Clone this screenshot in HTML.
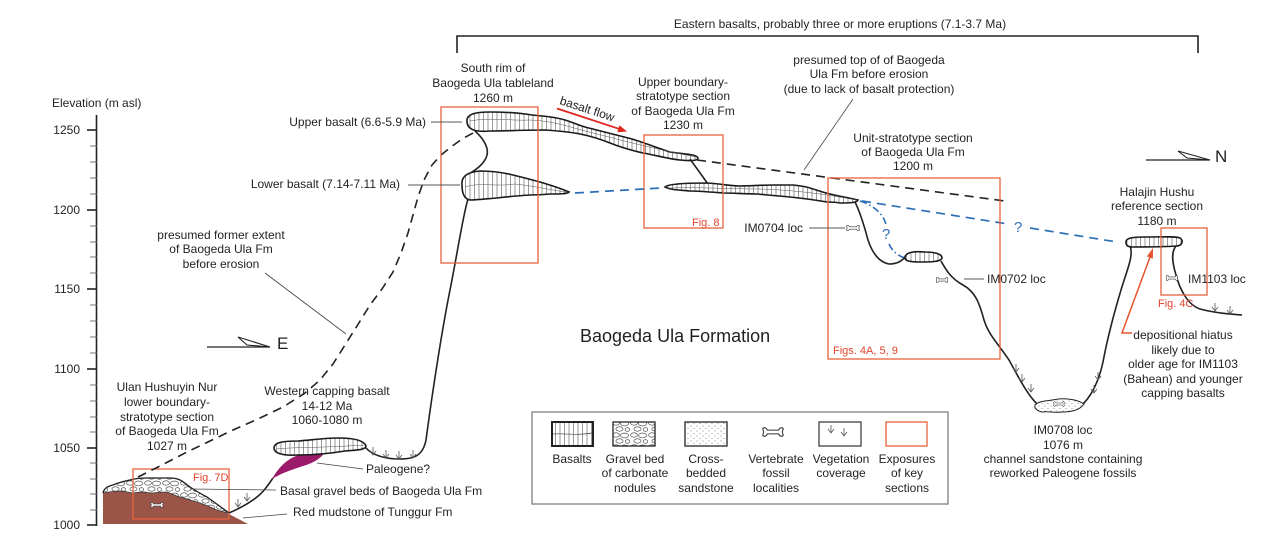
<!DOCTYPE html>
<html><head><meta charset="utf-8"><style>
html,body{margin:0;padding:0;background:#fff;}
svg{display:block;}
text{font-family:"Liberation Sans",Arial,sans-serif;font-size:12px;fill:#231f20;}
.fig{fill:#e2452c;font-size:11px;}
.rb{fill:none;stroke:#e8623d;stroke-width:1.3;}
.ln{fill:none;stroke:#222;stroke-width:1.6;}
.ld{fill:none;stroke:#444;stroke-width:0.8;}
.bas{fill:url(#bas);stroke:#1a1a1a;stroke-width:1.6;}
</style></head><body>
<svg width="1270" height="539" viewBox="0 0 1270 539" xmlns="http://www.w3.org/2000/svg">
<defs>
<pattern id="bas" width="4.5" height="40" patternUnits="userSpaceOnUse">
<rect width="4.5" height="40" fill="#fff"/>
<line x1="2" y1="0" x2="2" y2="40" stroke="#555" stroke-width="0.6"/>
</pattern>
<pattern id="grav" width="18" height="12" patternUnits="userSpaceOnUse">
<rect width="18" height="12" fill="#fff"/>
<ellipse cx="4" cy="3" rx="3.4" ry="2.2" fill="none" stroke="#333" stroke-width="0.6"/>
<ellipse cx="12.5" cy="3.5" rx="4" ry="2.4" fill="none" stroke="#333" stroke-width="0.6"/>
<ellipse cx="7.5" cy="9" rx="3.6" ry="2.2" fill="none" stroke="#333" stroke-width="0.6"/>
<ellipse cx="15.5" cy="9.5" rx="2.2" ry="1.8" fill="none" stroke="#333" stroke-width="0.6"/>
</pattern>
<pattern id="dots" width="6" height="5" patternUnits="userSpaceOnUse">
<rect width="6" height="5" fill="#fff"/>
<circle cx="1" cy="1" r="0.45" fill="#555"/><circle cx="4" cy="3.5" r="0.45" fill="#555"/>
</pattern>
<path id="bone" d="M-5,-1.6 L5,-1.6 C5.5,-4 8.5,-4.5 9,-2.5 C8,-1 8,1 9,2.5 C8.5,4.5 5.5,4 5,1.6 L-5,1.6 C-5.5,4 -8.5,4.5 -9,2.5 C-8,1 -8,-1 -9,-2.5 C-8.5,-4.5 -5.5,-4 -5,-1.6 Z" fill="#fff" stroke="#333" stroke-width="0.9"/>
<path id="veg" d="M0,-8 V0 M-3,-4 L0,0 L3,-4" fill="none" stroke="#555" stroke-width="0.8"/>
</defs>

<!-- axis -->
<text x="52" y="107">Elevation (m asl)</text>
<line x1="96.5" y1="115" x2="96.5" y2="526" stroke="#222" stroke-width="1.6"/>
<g stroke="#222" stroke-width="1.6">
<line x1="87" y1="130" x2="97" y2="130"/><line x1="87" y1="210" x2="97" y2="210"/><line x1="87" y1="289" x2="97" y2="289"/>
<line x1="87" y1="369" x2="97" y2="369"/><line x1="87" y1="448" x2="97" y2="448"/><line x1="87" y1="525" x2="97" y2="525"/>
</g>
<g stroke="#666" stroke-width="0.9">
<line x1="90" y1="146" x2="97" y2="146"/><line x1="90" y1="162" x2="97" y2="162"/><line x1="90" y1="178" x2="97" y2="178"/><line x1="90" y1="194" x2="97" y2="194"/>
<line x1="90" y1="226" x2="97" y2="226"/><line x1="90" y1="242" x2="97" y2="242"/><line x1="90" y1="257" x2="97" y2="257"/><line x1="90" y1="273" x2="97" y2="273"/>
<line x1="90" y1="305" x2="97" y2="305"/><line x1="90" y1="321" x2="97" y2="321"/><line x1="90" y1="337" x2="97" y2="337"/><line x1="90" y1="353" x2="97" y2="353"/>
<line x1="90" y1="385" x2="97" y2="385"/><line x1="90" y1="401" x2="97" y2="401"/><line x1="90" y1="417" x2="97" y2="417"/><line x1="90" y1="432" x2="97" y2="432"/>
<line x1="90" y1="463" x2="97" y2="463"/><line x1="90" y1="479" x2="97" y2="479"/><line x1="90" y1="494" x2="97" y2="494"/><line x1="90" y1="510" x2="97" y2="510"/>
</g>
<g text-anchor="end">
<text x="80" y="134">1250</text><text x="80" y="214">1200</text><text x="80" y="293">1150</text>
<text x="80" y="373">1100</text><text x="80" y="452">1050</text><text x="80" y="529">1000</text>
</g>

<!-- top bracket -->
<text x="840" y="28" text-anchor="middle">Eastern basalts, probably three or more eruptions (7.1-3.7 Ma)</text>
<path d="M457,53 V36 H1198 V53" fill="none" stroke="#222" stroke-width="1.6"/>

<!-- hill: mudstone + gravel -->
<path d="M103,493 C108,492 115,491 123,491 C128,492 131,493 133,493 C138,492 142,492 145,492 C148,493 151,493 153,493 C158,492 163,492 167,492 C172,494 176,496 180,497 C184,498 187,499 190,500 C194,501 197,502 200,503 C206,505 212,508 217,510 C221,511 224,512 227,513 L248,524 L103,524 Z" fill="#9b5548"/>
<path d="M103,493 C104,488 108,486 113,485 C120,482 125,481 130,480 C137,478 142,478 147,478 C155,478 163,478 170,478 C175,478 178,479 180,480 C184,482 187,485 190,487 C196,491 201,494 207,497 C214,502 221,507 227,512 L227,513 C224,512 221,511 217,510 C212,508 206,505 200,503 C197,502 194,501 190,500 C187,499 184,498 180,497 C176,496 172,494 167,492 C163,492 158,492 153,493 C151,493 148,493 145,492 C142,492 138,492 133,493 C131,493 128,492 123,491 C115,491 108,492 103,493 Z" fill="url(#grav)" stroke="#333" stroke-width="0.8"/>
<path d="M103,493 C104,488 108,486 113,485 C120,482 125,481 130,480 C137,478 142,478 147,478 C155,478 163,478 170,478 C175,478 178,479 180,480 C184,482 187,485 190,487 C196,491 201,494 207,497 C214,502 221,507 229,513" fill="none" stroke="#222" stroke-width="1.3"/>
<use href="#bone" transform="translate(157,505) scale(0.7)" />
<rect class="rb" x="133" y="469" width="96" height="50"/>
<text class="fig" x="193" y="481">Fig. 7D</text>

<!-- slope from hill to western basalt -->
<path class="ln" d="M229,513 C245,506 258,498 265,489 C269,484 271,481 273,478"/>
<use href="#veg" x="238" y="507"/><use href="#veg" x="247" y="501"/>
<!-- purple Paleogene lens -->
<path d="M272,479 C278,468 286,460 296,456 C306,453 317,452 324,453 C321,459 311,464 300,467 C288,471 280,474 272,479 Z" fill="#9c1a6a"/>
<!-- western capping basalt -->
<path class="bas" d="M274,448 C274,442 284,441 298,441 C312,440 325,438 338,438 C352,438 364,440 366,446 C366,450 356,450 345,451 C333,453 315,455 298,455 C282,456 274,453 274,448 Z"/>
<path d="M276,449 C295,447 320,448 364,445" fill="none" stroke="#555" stroke-width="0.5"/>

<!-- main cliff -->
<path class="ln" d="M366,448 C372,455 385,459 400,459 C415,459 423,455 426,440 C430,410 440,340 450,290 C458,250 463,215 468,199"/>
<use href="#veg" x="373" y="455"/><use href="#veg" x="386" y="458"/><use href="#veg" x="399" y="459"/><use href="#veg" x="413" y="458"/>

<!-- dashed former extent -->
<polyline points="138,477 160,466 187,452 210,441 233,430 258,419 283,407 305,393 320,380 333,364 345,345 357,326 370,305 382,289 393,272 401,253 408,233 413,215 418,197 424,180 432,165 441,155 451,147 462,139 475,132" fill="none" stroke="#222" stroke-width="1.6" stroke-dasharray="9,6" stroke-linejoin="round"/>
<text x="221" y="239" text-anchor="middle">presumed former extent</text>
<text x="221" y="253" text-anchor="middle">of Baogeda Ula Fm</text>
<text x="221" y="268" text-anchor="middle">before erosion</text>
<line class="ld" x1="265" y1="273" x2="346" y2="334"/>

<!-- tableland basalts -->
<path class="ln" d="M475,131 C485,140 490,150 486,158 C482,166 475,170 469,174"/>
<path class="bas" d="M467,122 C466,114 475,112 490,112 C505,112 520,113 532,115 C545,116 555,117 565,120 C572,122 578,125 585,127 C600,131 617,135 632,139 C645,143 658,148 670,152 C682,154 697,154 698,158 C698,161 690,161 680,160 C668,159 655,155 643,153 C630,150 620,147 610,143 C600,139 590,136 580,134 C570,132 560,131 545,130 C525,130 505,131 490,131 C478,132 468,131 467,122 Z"/>
<path d="M470,121 C490,117 510,121 530,120 C550,121 560,124 585,131 C610,137 640,146 696,157" fill="none" stroke="#555" stroke-width="0.5"/>
<path class="bas" d="M462,185 C461,176 468,172 480,171 C495,171 505,173 513,175 C525,178 533,180 540,182 C550,185 560,188 569,192 C567,194 560,194 550,194 C540,195 535,195 530,195 C515,196 505,197 497,198 C485,199 475,200 470,200 C464,199 462,193 462,185 Z"/>
<path d="M465,187 C480,182 495,187 515,184 C535,186 550,190 566,192" fill="none" stroke="#555" stroke-width="0.5"/>
<rect class="rb" x="441" y="107" width="97" height="156"/>
<text x="493" y="72" text-anchor="middle">South rim of</text>
<text x="493" y="87" text-anchor="middle">Baogeda Ula tableland</text>
<text x="493" y="102" text-anchor="middle">1260 m</text>
<text x="426" y="126" text-anchor="end">Upper basalt (6.6-5.9 Ma)</text>
<line x1="431" y1="122" x2="462" y2="122" stroke="#555" stroke-width="0.9"/>
<text x="400" y="188" text-anchor="end">Lower basalt (7.14-7.11 Ma)</text>
<line x1="408" y1="185" x2="460" y2="185" stroke="#555" stroke-width="0.9"/>

<!-- basalt flow arrow -->
<text transform="translate(559,104) rotate(18)" style="font-size:12px">basalt flow</text>
<line x1="557" y1="108.5" x2="619" y2="128.8" stroke="#e0261c" stroke-width="1.8"/>
<polygon points="627,131.5 617.3,132.2 619.5,125.4" fill="#e0261c"/>

<!-- upper boundary stratotype -->
<text x="683" y="86" text-anchor="middle">Upper boundary-</text>
<text x="683" y="100" text-anchor="middle">stratotype section</text>
<text x="683" y="115" text-anchor="middle">of Baogeda Ula Fm</text>
<text x="683" y="129" text-anchor="middle">1230 m</text>
<path class="ln" d="M690,159 L708,184"/>
<path class="bas" d="M665,187 C668,184 685,183 707,183 C722,184 732,186 740,186 C752,186 762,185 773,185 C782,185 790,185 793,185 C803,186 808,187 813,189 C820,191 825,193 830,194 C838,196 845,197 858,200 C857,203 848,203 840,203 C835,202 830,202 827,202 C815,200 800,198 790,197 C778,196 768,195 757,194 C745,194 733,193 723,193 C710,192 698,191 690,191 C680,190 670,190 665,187 Z"/>
<path d="M668,188 C700,187 730,189 760,189 C790,190 820,193 856,200" fill="none" stroke="#555" stroke-width="0.5"/>
<rect class="rb" x="644" y="135" width="79" height="93"/>
<text class="fig" x="692" y="226">Fig. 8</text>

<!-- blue dashed connectors -->
<line x1="575" y1="193" x2="661" y2="188" stroke="#2c6fb6" stroke-width="1.7" stroke-dasharray="9,6"/>
<line x1="862" y1="201" x2="1008" y2="224" stroke="#2c6fb6" stroke-width="1.7" stroke-dasharray="9,6"/>
<line x1="1030" y1="228" x2="1117" y2="242" stroke="#2c6fb6" stroke-width="1.7" stroke-dasharray="9,6"/>
<text x="1014" y="232" style="fill:#2c6fb6;font-size:15px">?</text>
<path d="M860,201 C873,205 884,214 886,225" fill="none" stroke="#2c6fb6" stroke-width="1.6" stroke-dasharray="7,3,1.5,3"/>
<path d="M889,244 C892,251 898,256 905,258" fill="none" stroke="#2c6fb6" stroke-width="1.6" stroke-dasharray="7,3,1.5,3"/>
<text x="882" y="239" style="fill:#2c6fb6;font-size:15px">?</text>

<!-- black dashed presumed top -->
<line x1="697" y1="160" x2="1005" y2="201" stroke="#222" stroke-width="1.6" stroke-dasharray="9,6"/>
<text x="869" y="64" text-anchor="middle">presumed top of of Baogeda</text>
<text x="869" y="78" text-anchor="middle">Ula Fm before erosion</text>
<text x="869" y="93" text-anchor="middle">(due to lack of basalt protection)</text>
<line class="ld" x1="804" y1="170" x2="853" y2="99"/>

<!-- unit stratotype -->
<text x="913" y="142" text-anchor="middle">Unit-stratotype section</text>
<text x="913" y="156" text-anchor="middle">of Baogeda Ula Fm</text>
<text x="913" y="170" text-anchor="middle">1200 m</text>
<path class="ln" d="M855,202 C860,212 864,225 868,240 C872,252 878,262 889,264 C897,264 902,261 905,257"/>
<path class="bas" d="M905,257 C906,252 915,251 925,252 C935,252 942,254 942,258 C941,262 930,262 920,262 C910,262 904,261 905,257 Z"/>
<path class="ln" d="M941,261 C945,268 950,278 963,285 C976,292 980,305 984,320 C989,336 1000,346 1009,360 C1019,378 1027,394 1037,404"/>
<path d="M1035,405 C1040,400 1050,401 1058,399 C1068,398 1078,400 1084,404 C1080,410 1072,412 1062,412 C1055,413 1048,411 1042,412 C1037,411 1034,408 1035,405 Z" fill="url(#dots)" stroke="#222" stroke-width="1"/>
<use href="#bone" transform="translate(1059,404) scale(0.6)"/>
<path class="ln" d="M1083,404 C1092,395 1099,380 1103,362 C1108,335 1115,310 1121,290 C1127,270 1134,255 1130,246"/>
<use href="#veg" x="1016" y="372"/><use href="#veg" x="1022" y="382"/><use href="#veg" x="1031" y="392"/>
<use href="#veg" x="1098" y="380"/><use href="#veg" x="1094" y="393"/>
<rect class="rb" x="828" y="178" width="172" height="181"/>
<text class="fig" x="833" y="354">Figs. 4A, 5, 9</text>
<text x="803" y="232" text-anchor="end">IM0704 loc</text>
<line x1="809" y1="228" x2="845" y2="228" stroke="#555" stroke-width="0.9"/>
<use href="#bone" transform="translate(853,228) scale(0.72)"/>
<use href="#bone" transform="translate(942,280) scale(0.65)"/>
<line x1="964" y1="279" x2="984" y2="279" stroke="#555" stroke-width="0.9"/>
<text x="987" y="283">IM0702 loc</text>

<!-- Halajin -->
<text x="1157" y="196" text-anchor="middle">Halajin Hushu</text>
<text x="1157" y="210" text-anchor="middle">reference section</text>
<text x="1157" y="225" text-anchor="middle">1180 m</text>
<path class="ln" d="M1176,246 C1171,252 1172,262 1176,275 C1180,290 1188,305 1200,309 C1215,313 1230,314 1242,315"/>
<path class="bas" d="M1126,242 C1126,238 1132,237 1145,237 C1160,237 1175,236 1180,238 C1184,241 1182,246 1176,246 C1165,247 1145,247 1133,247 C1127,247 1126,245 1126,242 Z"/>
<use href="#veg" x="1215" y="311"/><use href="#veg" x="1230" y="314"/>
<rect class="rb" x="1161" y="228" width="46" height="67"/>
<text class="fig" x="1158" y="307">Fig. 4C</text>
<use href="#bone" transform="translate(1172,278) scale(0.65)"/>
<text x="1188" y="283">IM1103 loc</text>
<polyline points="1132,333 1122,333 1150,257" fill="none" stroke="#e5532e" stroke-width="1.5"/>
<polygon points="1153,248 1152.9,258.6 1146.9,256.4" fill="#e5532e"/>
<g text-anchor="middle">
<text x="1183" y="339">depositional hiatus</text>
<text x="1183" y="354">likely due to</text>
<text x="1183" y="368">older age for IM1103</text>
<text x="1183" y="383">(Bahean) and younger</text>
<text x="1183" y="397">capping basalts</text>
<text x="1063" y="434">IM0708 loc</text>
<text x="1063" y="449">1076 m</text>
<text x="1063" y="463">channel sandstone containing</text>
<text x="1063" y="477">reworked Paleogene fossils</text>
</g>

<!-- N / E arrows -->
<line x1="207" y1="347" x2="270" y2="347" stroke="#222" stroke-width="1.3"/>
<polygon points="238,337 270,347 247,345" fill="none" stroke="#222" stroke-width="1.1"/>
<text x="277" y="349" style="font-size:17px">E</text>
<line x1="1146" y1="160" x2="1210" y2="160" stroke="#222" stroke-width="1.3"/>
<polygon points="1178,151 1210,160 1187,158" fill="none" stroke="#222" stroke-width="1.1"/>
<text x="1215" y="162" style="font-size:17px">N</text>

<!-- left labels -->
<g text-anchor="middle">
<text x="167" y="391">Ulan Hushuyin Nur</text>
<text x="167" y="406">lower boundary-</text>
<text x="167" y="421">stratotype section</text>
<text x="167" y="435">of Baogeda Ula Fm</text>
<text x="167" y="450">1027 m</text>
<text x="327" y="395">Western capping basalt</text>
<text x="327" y="410">14-12 Ma</text>
<text x="327" y="424">1060-1080 m</text>
</g>
<text x="366" y="473">Paleogene?</text>
<line class="ld" x1="317" y1="463" x2="363" y2="469"/>
<text x="280" y="495">Basal gravel beds of Baogeda Ula Fm</text>
<line class="ld" x1="190" y1="489" x2="276" y2="490"/>
<text x="293" y="516">Red mudstone of Tunggur Fm</text>
<line class="ld" x1="243" y1="518" x2="287" y2="514"/>

<text x="580" y="342" style="font-size:18px">Baogeda Ula Formation</text>

<!-- legend -->
<rect x="532" y="412" width="416" height="92" fill="none" stroke="#808080" stroke-width="1.3"/>
<rect x="552" y="422" width="41" height="24" fill="url(#bas)" stroke="#222" stroke-width="2"/>
<path d="M553,434 C565,433 575,436 592,433" fill="none" stroke="#444" stroke-width="0.7"/>
<rect x="613" y="422" width="42" height="24" fill="url(#grav)" stroke="#333" stroke-width="1.4"/>
<rect x="685" y="422" width="42" height="24" fill="url(#dots)" stroke="#333" stroke-width="1.4"/>
<use href="#bone" transform="translate(773,432) scale(1.15)"/>
<rect x="819" y="422" width="42" height="24" fill="#fff" stroke="#333" stroke-width="1.2"/>
<use href="#veg" x="831" y="433"/><use href="#veg" x="844" y="436"/>
<rect class="rb" x="886" y="422" width="41" height="24"/>
<g text-anchor="middle">
<text x="572" y="463">Basalts</text>
<text x="635" y="463">Gravel bed</text><text x="635" y="477">of carbonate</text><text x="635" y="492">nodules</text>
<text x="706" y="463">Cross-</text><text x="706" y="477">bedded</text><text x="706" y="492">sandstone</text>
<text x="776" y="463">Vertebrate</text><text x="776" y="477">fossil</text><text x="776" y="492">localities</text>
<text x="841" y="463">Vegetation</text><text x="841" y="477">coverage</text>
<text x="907" y="463">Exposures</text><text x="907" y="477">of key</text><text x="907" y="492">sections</text>
</g>
</svg>
</body></html>
